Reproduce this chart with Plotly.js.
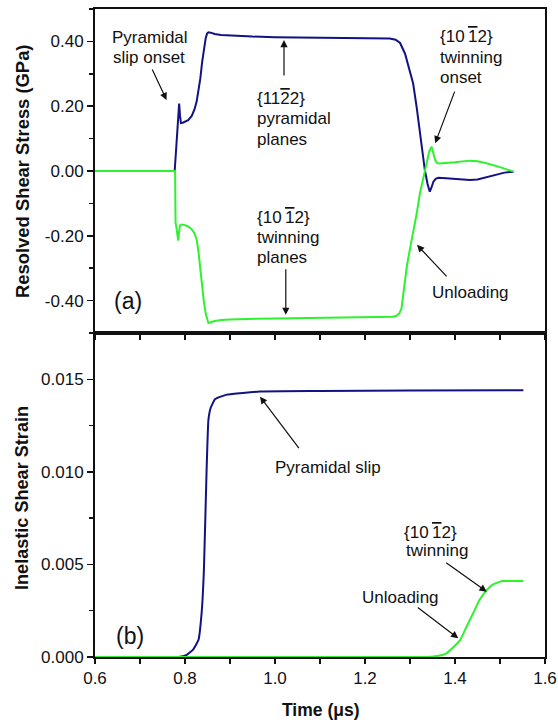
<!DOCTYPE html>
<html>
<head>
<meta charset="utf-8">
<script src="https://cdn.plot.ly/plotly-3.0.1.min.js"></script>
<style>body{margin:0;padding:0;background:#fff}#chart{width:558px;height:722px}</style>
</head>
<body>
<div id="chart"></div>
<script>
// ---- Panel (a): resolved shear stress (GPa) ----
var timePyrStress = [0.6, 0.777, 0.779, 0.781, 0.784, 0.787, 0.789, 0.791, 0.795, 0.8, 0.807, 0.815, 0.821, 0.826, 0.83, 0.834, 0.838, 0.842, 0.846, 0.849, 0.852, 0.857, 0.866, 0.88, 0.9, 0.95, 1.0, 1.1, 1.2, 1.255, 1.268, 1.278, 1.289, 1.298, 1.307, 1.315, 1.322, 1.328, 1.333, 1.339, 1.344, 1.348, 1.352, 1.357, 1.363, 1.38, 1.4, 1.42, 1.433, 1.45, 1.47, 1.49, 1.51, 1.53];
var pyrStress = [0, 0, 0.04, 0.08, 0.17, 0.208, 0.17, 0.148, 0.149, 0.152, 0.157, 0.17, 0.19, 0.215, 0.245, 0.285, 0.335, 0.38, 0.41, 0.424, 0.428, 0.427, 0.423, 0.42, 0.418, 0.415, 0.413, 0.411, 0.41, 0.409, 0.405, 0.395, 0.362, 0.32, 0.27, 0.195, 0.116, 0.055, 0.003, -0.04, -0.064, -0.05, -0.033, -0.024, -0.021, -0.022, -0.024, -0.027, -0.028, -0.026, -0.019, -0.01, -0.005, -0.002];

var timeTwinStress = [0.6, 0.778, 0.7785, 0.779, 0.781, 0.783, 0.785, 0.787, 0.789, 0.793, 0.8, 0.808, 0.815, 0.821, 0.826, 0.83, 0.834, 0.838, 0.842, 0.846, 0.849, 0.852, 0.857, 0.866, 0.88, 0.9, 1.0, 1.1, 1.2, 1.262, 1.27, 1.276, 1.281, 1.287, 1.293, 1.3, 1.307, 1.315, 1.322, 1.328, 1.333, 1.338, 1.343, 1.348, 1.352, 1.356, 1.36, 1.365, 1.4, 1.433, 1.45, 1.47, 1.5, 1.53];
var twinStress = [0, 0, -0.08, -0.16, -0.175, -0.2, -0.215, -0.185, -0.168, -0.165, -0.167, -0.172, -0.18, -0.192, -0.212, -0.25, -0.31, -0.36, -0.405, -0.44, -0.46, -0.469, -0.467, -0.463, -0.46, -0.458, -0.455, -0.453, -0.451, -0.45, -0.447, -0.44, -0.425, -0.36, -0.294, -0.24, -0.192, -0.13, -0.069, -0.03, 0.003, 0.035, 0.062, 0.075, 0.058, 0.034, 0.025, 0.023, 0.027, 0.032, 0.03, 0.024, 0.012, -0.002];

// ---- Panel (b): inelastic shear strain ----
var timePyrStrain = [0.6, 0.7, 0.77, 0.785, 0.804, 0.818, 0.83, 0.837, 0.842, 0.848, 0.852, 0.857, 0.867, 0.893, 0.967, 1.1, 1.3, 1.552];
var pyrStrain = [0, 0, 0, 0, 0.00012, 0.0004, 0.00093, 0.0024, 0.0047, 0.0101, 0.0128, 0.01345, 0.01393, 0.01417, 0.01434, 0.01437, 0.0144, 0.01441];

var timeTwinStrain = [0.6, 1.0, 1.3, 1.34, 1.36, 1.381, 1.395, 1.411, 1.425, 1.441, 1.455, 1.47, 1.483, 1.493, 1.505, 1.515, 1.552];
var twinStrain = [0, 0, 0, 0, 0.00005, 0.0002, 0.0005, 0.0009, 0.0016, 0.0024, 0.0031, 0.0036, 0.0039, 0.004, 0.0041, 0.0041, 0.0041];

// ---- tick labels ----
var stressTicks = [-0.4, -0.2, 0, 0.2, 0.4];
var stressTickText = ["-0.40", "-0.20", "0.00", "0.20", "0.40"];
var strainTicks = [0, 0.005, 0.01, 0.015];
var strainTickText = ["0.000", "0.005", "0.010", "0.015"];
var timeTicks = [0.6, 0.8, 1.0, 1.2, 1.4, 1.6];
var timeTickText = ["0.6", "0.8", "1.0", "1.2", "1.4", "1.6"];

var NAVY = "#121282", GREEN = "#2ef22e";
var FONT = "Liberation Sans, Arial, sans-serif";

var traces = [
  {x: timePyrStress, y: pyrStress, xaxis: "x", yaxis: "y", mode: "lines", line: {color: NAVY, width: 2}},
  {x: timeTwinStress, y: twinStress, xaxis: "x", yaxis: "y", mode: "lines", line: {color: GREEN, width: 2}},
  {x: timePyrStrain, y: pyrStrain, xaxis: "x2", yaxis: "y2", mode: "lines", line: {color: NAVY, width: 2, shape: "spline", smoothing: 0.4}},
  {x: timeTwinStrain, y: twinStrain, xaxis: "x2", yaxis: "y2", mode: "lines", line: {color: GREEN, width: 2, shape: "spline", smoothing: 0.4}}
];

// pixel helpers for text placement (plot area: x 95..545, y 9..657)
function px2x(px) { return (px - 95) / 450; }
function py2y(py) { return (657 - py) / 648; }
function txt(t, px, py, size, extra) {
  var a = {text: t, xref: "paper", yref: "paper", x: px2x(px), y: py2y(py), xanchor: "left", yanchor: "middle",
           showarrow: false, font: {family: FONT, size: size || 17, color: "#111"}};
  for (var k in extra) a[k] = extra[k];
  return a;
}
function arrow(xr, yr, x, y, ax, ay) {
  return {text: "", xref: xr, yref: yr, x: x, y: y, ax: ax, ay: ay, showarrow: true,
          arrowhead: 2, arrowsize: 1.2, arrowwidth: 1.2, arrowcolor: "#111"};
}
var OV = "<span style='text-decoration:overline'>";
var TW = "{10\u2009" + OV + "1</span>2}";
var PY = "{11" + OV + "2</span>2}";

var annotations = [
  txt("Pyramidal", 110, 38), txt("slip onset", 111, 57),
  txt(PY, 255, 99), txt("pyramidal", 255, 119), txt("planes", 255, 139),
  txt(TW, 255, 217), txt("twinning", 255, 237), txt("planes", 255, 257),
  txt(TW, 438, 37), txt("twinning", 438, 57), txt("onset", 438, 77),
  txt("Unloading", 430, 292),
  txt("(a)", 112, 301, 23),
  txt("Pyramidal slip", 273, 467),
  txt(TW, 402, 532), txt("twinning", 404, 550),
  txt("Unloading", 360, 597),
  txt("(b)", 114, 636, 23),
  txt("<b>Resolved Shear Stress (GPa)</b>", 22, 171, 18.4, {textangle: -90, xanchor: "center"}),
  txt("<b>Inelastic Shear Strain</b>", 22, 498, 18.1, {textangle: -90, xanchor: "center"}),
  txt("<b>Time (\u03bcs)</b>", 321, 710, 17.5, {xanchor: "center"}),
  arrow("x", "y", 0.759, 0.219, -15, -32),
  arrow("x", "y", 1.02, 0.404, 0, 37),
  arrow("x", "y", 1.024, -0.444, 0, -47),
  arrow("x", "y", 1.356, 0.086, 20, -53),
  arrow("x", "y", 1.3156, -0.228, 31, 33),
  arrow("x2", "y2", 0.9667, 0.01406, 40, 53),
  arrow("x2", "y2", 1.4704, 0.00353, -42, -30),
  arrow("x2", "y2", 1.4073, 0.00101, -42, -32)
];

var axBase = {showline: true, linewidth: 2, linecolor: "#111", mirror: true, showgrid: false, zeroline: false,
              ticks: "outside", ticklen: 6, tickwidth: 1.5, tickcolor: "#111",
              tickfont: {family: FONT, size: 17, color: "#111"}};
function ax(extra) { var o = JSON.parse(JSON.stringify(axBase)); for (var k in extra) o[k] = extra[k]; return o; }

var layout = {
  width: 558, height: 722, showlegend: false,
  paper_bgcolor: "#fff", plot_bgcolor: "#fff",
  margin: {l: 95, r: 13, t: 9, b: 65},
  xaxis: ax({domain: [0, 1], anchor: "y", range: [0.6, 1.6], showticklabels: false, tickmode: "array", tickvals: timeTicks, ticklen: 5,
             minor: {tickmode: "linear", tick0: 0.6, dtick: 0.1, ticks: "outside", ticklen: 5, tickwidth: 1.5, tickcolor: "#111"}}),
  yaxis: ax({domain: [0.5, 1], anchor: "x", range: [-0.5, 0.5], tickmode: "array", tickvals: stressTicks, ticktext: stressTickText,
             minor: {tickmode: "linear", tick0: 0, dtick: 0.1, ticks: "outside", ticklen: 4, tickwidth: 1.5, tickcolor: "#111"}}),
  xaxis2: ax({domain: [0, 1], anchor: "y2", range: [0.6, 1.6], tickmode: "array", tickvals: timeTicks, ticktext: timeTickText, ticklen: 5,
              minor: {tickmode: "linear", tick0: 0.6, dtick: 0.1, ticks: "outside", ticklen: 5, tickwidth: 1.5, tickcolor: "#111"}}),
  yaxis2: ax({domain: [0, 0.5], anchor: "x2", range: [0, 0.0175], tickmode: "array", tickvals: strainTicks, ticktext: strainTickText,
              minor: {tickmode: "linear", tick0: 0, dtick: 0.0025, ticks: "outside", ticklen: 4, tickwidth: 1.5, tickcolor: "#111"}}),
  annotations: annotations
};

Plotly.newPlot("chart", traces, layout, {staticPlot: true, displayModeBar: false});
</script>
</body>
</html>
